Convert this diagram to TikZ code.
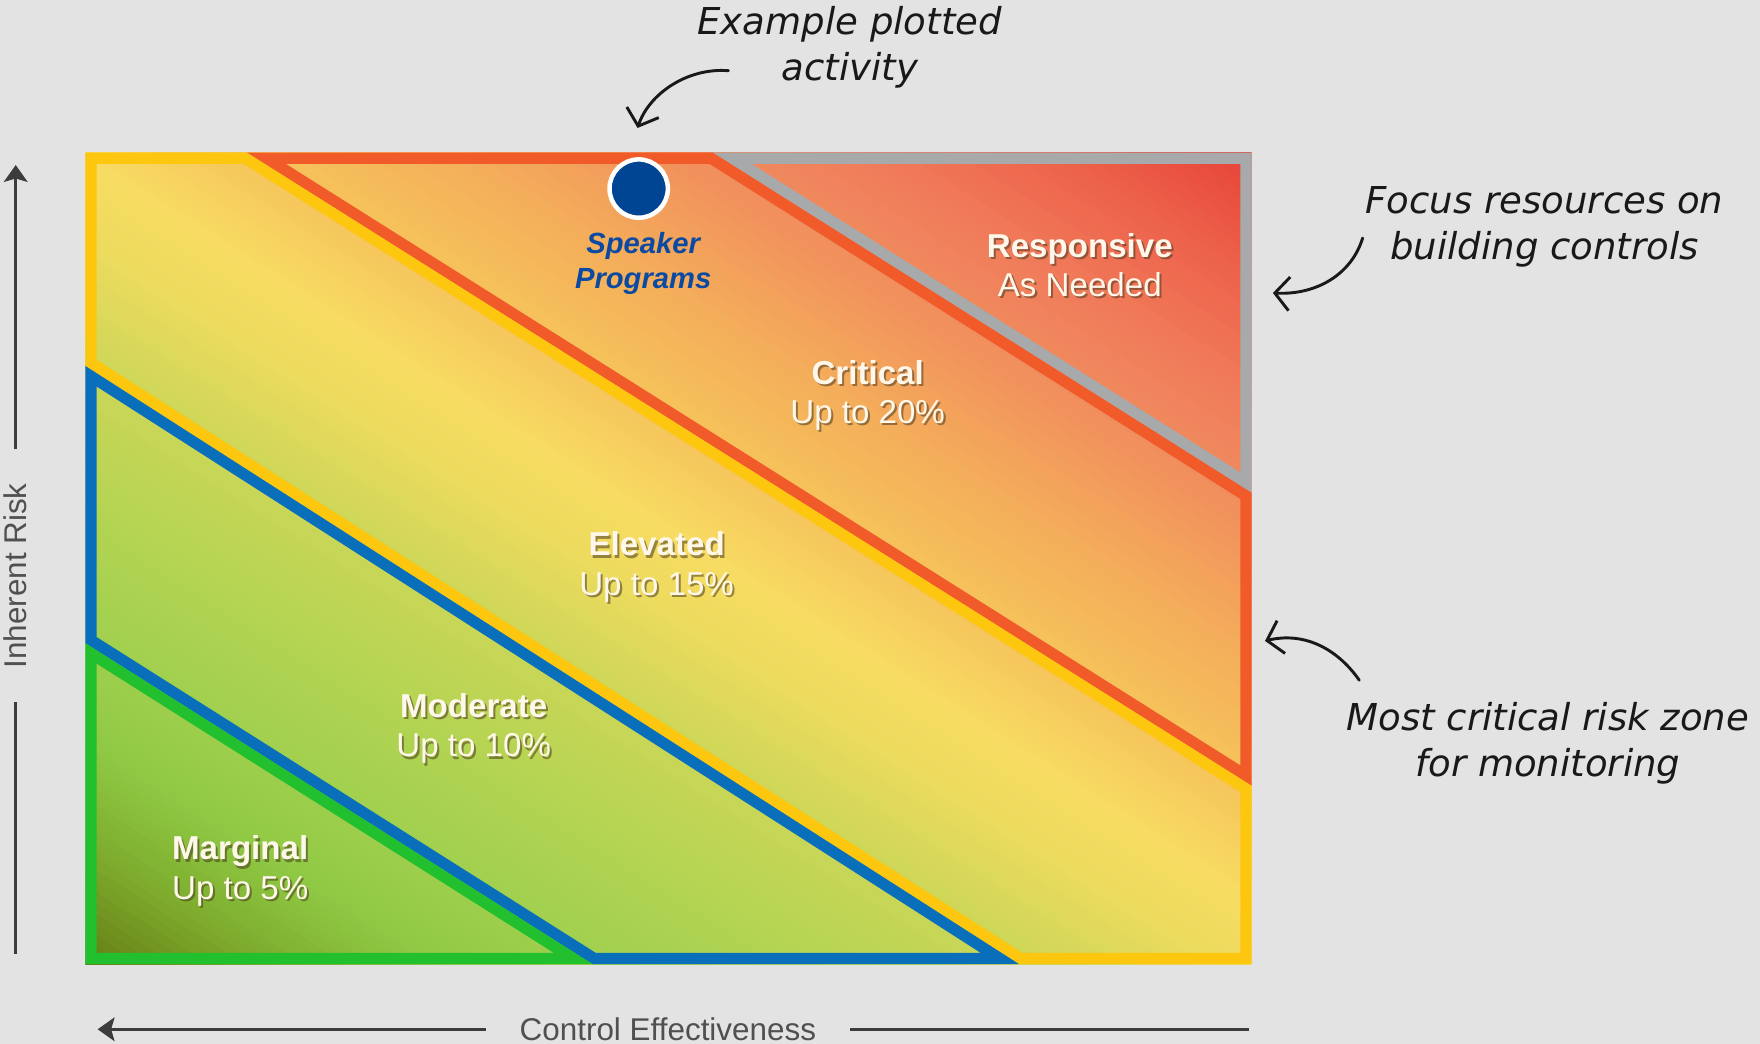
\documentclass[tikz,border=0pt]{standalone}
\usepackage{fontspec}
\setmainfont{Liberation Sans}
\newfontfamily\handfont{DejaVu Sans}
\usetikzlibrary{arrows.meta}
\definecolor{bgc}{HTML}{E3E3E3}
\definecolor{axc}{HTML}{3C3C3C}
\definecolor{axtxt}{HTML}{505050}
\definecolor{bYel}{HTML}{FDC70F}
\definecolor{bOra}{HTML}{F15A29}
\definecolor{bGry}{HTML}{A8A9AB}
\definecolor{bBlu}{HTML}{0A6FBA}
\definecolor{bGrn}{HTML}{22BF2E}
\definecolor{dotc}{HTML}{004494}
\definecolor{spk}{HTML}{0B4AA2}
\definecolor{lbl}{HTML}{FFF8EA}
\definecolor{shd}{HTML}{4A3A20}
% gradient stops
\definecolor{g0}{HTML}{5F7510}
\definecolor{g1}{HTML}{7DAA2C}
\definecolor{g2}{HTML}{8EC843}
\definecolor{g3}{HTML}{A0D04E}
\definecolor{g4}{HTML}{B6D453}
\definecolor{g5}{HTML}{CAD657}
\definecolor{g6}{HTML}{EDDB5E}
\definecolor{g7}{HTML}{F7DC62}
\definecolor{g8}{HTML}{F6C45B}
\definecolor{g9}{HTML}{F4AE5A}
\definecolor{g10}{HTML}{F08B5E}
\definecolor{g11}{HTML}{F07A5A}
\definecolor{g12}{HTML}{EC5E48}
\definecolor{g13}{HTML}{E63C34}
\tikzset{
  zonelbl/.style={text=lbl, align=center, font=\fontsize{29.5}{35}\selectfont, inner sep=0pt},
  zoneshd/.style={text=shd, opacity=0.55, align=center, font=\fontsize{29.5}{35}\selectfont, inner sep=0pt},
  hand/.style={align=center, text=black!90, font=\handfont\itshape\fontsize{33}{41}\selectfont, inner sep=0pt},
  handarrow/.style={draw=black!90, line width=2.6pt, line cap=round, -{Straight Barb[length=13pt,width=30pt,line width=2.6pt]}},
  axisline/.style={draw=axc, line width=3pt},
  axislbl/.style={text=axtxt, font=\fontsize{28}{30}\selectfont, inner xsep=30pt, inner ysep=0pt},
  zoneborder/.style={line width=20pt, line join=miter}
}
\begin{document}
\begin{tikzpicture}[x=1pt,y=-1pt]
\useasboundingbox (0,0) rectangle (1568,930);
\fill[bgc] (0,0) rectangle (1568,930);

% key points
\coordinate (TL) at (76,136);
\coordinate (TR) at (1115,136);
\coordinate (BR) at (1115,859);
\coordinate (BL) at (76,859);
\coordinate (A) at (220,136);
\coordinate (B) at (635,136);
\coordinate (C) at (1115,439);
\coordinate (D) at (1115,700);
\coordinate (E) at (76,326);
\coordinate (F) at (908,859);
\coordinate (G) at (76,573);
\coordinate (H) at (528,859);

% global gradient
\begin{scope}
\clip (TL) rectangle (BR);
\foreach \ta/\tb/\ca/\cb in {-700/-600/g0/g1,-600/-520/g1/g2,-520/-440/g2/g3,-440/-330/g3/g4,-330/-240/g4/g5,-240/-140/g5/g6,-140/-80/g6/g7,-80/0/g7/g8,0/100/g8/g9,100/225/g9/g10,225/300/g10/g11,300/400/g11/g12,400/500/g12/g13}{
  \foreach \k in {0,...,11}{
    \pgfmathsetmacro\tlo{\ta+(\tb-\ta)*\k/12}
    \pgfmathsetmacro\thi{\ta+(\tb-\ta)*(\k+1)/12+0.8}
    \pgfmathtruncatemacro\p{100*(\k+0.5)/12}
    \fill[fill=\cb!\p!\ca] ({0.536*\tlo},{-0.844*\tlo}) -- ({0.536*\tlo+1350.4},{-0.844*\tlo+857.6}) -- ({0.536*\thi+1350.4},{-0.844*\thi+857.6}) -- ({0.536*\thi},{-0.844*\thi}) -- cycle;
  }
}
\end{scope}

% zone borders (inner strokes)
\begin{scope}
\clip (B) -- (TR) -- (C) -- cycle;
\draw[zoneborder, bGry] (B) -- (TR) -- (C) -- cycle;
\end{scope}
\begin{scope}
\clip (A) -- (B) -- (C) -- (D) -- cycle;
\draw[zoneborder, bOra] (A) -- (B) -- (C) -- (D) -- cycle;
\end{scope}
\begin{scope}
\clip (TL) -- (A) -- (D) -- (BR) -- (F) -- (E) -- cycle;
\draw[zoneborder, bYel] (TL) -- (A) -- (D) -- (BR) -- (F) -- (E) -- cycle;
\end{scope}
\begin{scope}
\clip (E) -- (F) -- (H) -- (G) -- cycle;
\draw[zoneborder, bBlu] (E) -- (F) -- (H) -- (G) -- cycle;
\end{scope}
\begin{scope}
\clip (G) -- (H) -- (BL) -- cycle;
\draw[zoneborder, bGrn] (G) -- (H) -- (BL) -- cycle;
\end{scope}

% zone labels
\foreach \nm/\x/\y/\ta/\tb in {resp/962/236/Responsive/As Needed, crit/773/352/Critical/Up to 20\%, elev/585/505/Elevated/Up to 15\%, mode/422/649/Moderate/Up to 10\%, marg/214/776/Marginal/Up to 5\%}{
  \node[zoneshd] (\nm s) at (\x+1.8,\y+2.2) {\textbf{\ta}\\\tb};
  \node[zonelbl] (\nm) at (\x,\y) {\textbf{\ta}\\\tb};
}

% plotted activity
\node[circle, fill=dotc, draw=white, line width=4pt, minimum size=52pt, inner sep=0pt] (dot) at (569,168) {};
\node[text=spk, align=center, font=\bfseries\itshape\fontsize{26}{31}\selectfont, inner sep=0pt] (spkr) at (573,235) {Speaker\\Programs};

% axes
\coordinate (yb) at (14,850);
\coordinate (yt) at (14,147);
\node[axislbl, rotate=90] (ylab) at (14,513) {Inherent Risk};
\draw[axisline] (yb) -- (ylab.west);
\draw[axisline, -{Stealth[length=15pt,width=21pt,inset=3pt]}] (ylab.east) -- (yt);

\coordinate (xr) at (1113,917);
\coordinate (xl) at (87,917);
\node[axislbl] (xlab) at (595,917) {Control Effectiveness};
\draw[axisline] (xr) -- (xlab.east);
\draw[axisline, -{Stealth[length=15pt,width=21pt,inset=3pt]}] (xlab.west) -- (xl);

% annotations
\node[hand] (ann1) at (757,42) {Example plotted\\activity};
\coordinate (a1s) at (649,63);
\coordinate (a1e) at (568,114);
\draw[handarrow] (a1s) .. controls (612,60) and (578,84) .. (a1e);

\node[hand] (ann2) at (1376,202) {Focus resources on\\building controls};
\coordinate (a2s) at (1214,212);
\coordinate (a2e) at (1134,261);
\draw[handarrow] (a2s) .. controls (1204,245) and (1172,263) .. (a2e);

\node[hand] (ann3) at (1379,662) {Most critical risk zone\\for monitoring};
\coordinate (a3s) at (1211,606);
\coordinate (a3e) at (1127,571);
\draw[handarrow] (a3s) .. controls (1190,576) and (1160,563) .. (a3e);
\end{tikzpicture}
\end{document}
